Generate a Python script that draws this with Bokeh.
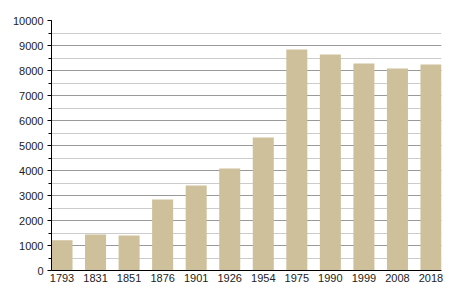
from bokeh.plotting import figure
from bokeh.models import Range1d, FixedTicker, SingleIntervalTicker, ColumnDataSource
from bokeh.embed import file_html
from bokeh.resources import INLINE

years = ["1793", "1831", "1851", "1876", "1901", "1926", "1954", "1975", "1990", "1999", "2008", "2018"]
population = [1210, 1440, 1400, 2840, 3400, 4080, 5320, 8840, 8640, 8280, 8080, 8240]

bar_width = 0.627
xs = list(range(len(years)))
src = ColumnDataSource(dict(x=xs, top=population))

p = figure(width=450, height=300, output_backend="svg", toolbar_location=None,
           x_range=Range1d(-bar_width / 2, len(years) - 1 + bar_width / 2),
           y_range=Range1d(0, 10000),
           min_border_left=51, min_border_right=9, min_border_top=20, min_border_bottom=30)
p.outline_line_color = None
p.background_fill_color = "white"
p.border_fill_color = "white"

p.vbar(x="x", top="top", width=bar_width, bottom=0, source=src,
       fill_color="#cdc09a", line_color=None)

# y axis
p.yaxis.ticker = SingleIntervalTicker(interval=1000, num_minor_ticks=2)
p.yaxis.axis_line_color = "black"
p.yaxis.major_tick_line_color = "black"
p.yaxis.minor_tick_line_color = "black"
p.yaxis.major_tick_in = 0
p.yaxis.major_tick_out = 4
p.yaxis.minor_tick_in = 0
p.yaxis.minor_tick_out = 3
p.yaxis.major_label_standoff = 4
p.yaxis.major_label_text_font = "Liberation Sans"
p.yaxis.major_label_text_font_size = "11px"
p.yaxis.major_label_text_color = "#222222"

# x axis
p.xaxis.ticker = FixedTicker(ticks=xs)
p.xaxis.major_label_overrides = {i: y for i, y in enumerate(years)}
p.xaxis.axis_line_color = "black"
p.xaxis.major_tick_line_color = None
p.xaxis.minor_tick_line_color = None
p.xaxis.major_tick_out = 0
p.xaxis.major_tick_in = 0
p.xaxis.major_label_standoff = 3
p.xaxis.major_label_text_font = "Liberation Sans"
p.xaxis.major_label_text_font_size = "11px"
p.xaxis.major_label_text_color = "#222222"

# grids
p.xgrid.grid_line_color = None
p.ygrid.grid_line_color = "#999999"
p.ygrid.grid_line_width = 1
p.ygrid.minor_grid_line_color = "#cccccc"
p.ygrid.minor_grid_line_width = 1

open("out.html", "w").write(file_html(p, INLINE))
